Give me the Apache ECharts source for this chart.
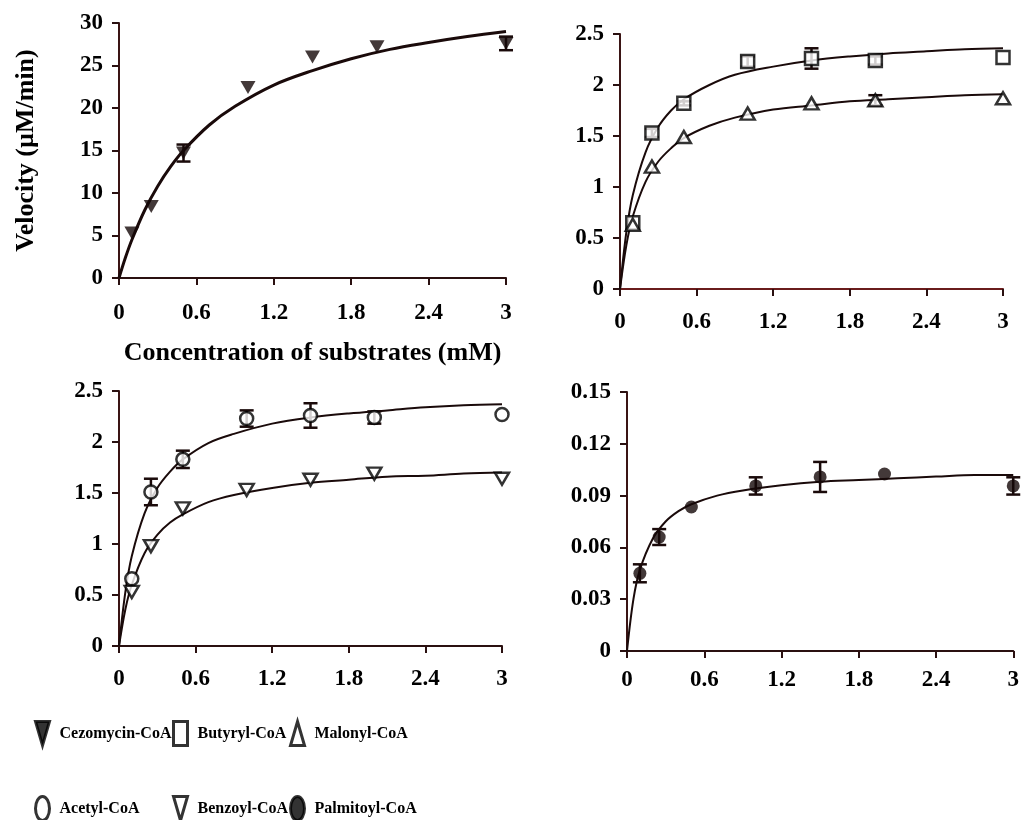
<!DOCTYPE html>
<html>
<head>
<meta charset="utf-8">
<script src="https://cdn.jsdelivr.net/npm/echarts@6/dist/echarts.min.js"></script>
<style>html,body{margin:0;background:#fff}#chart{width:1022px;height:820px}</style>
</head>
<body>
<div id="chart"></div>
<script>
// substrate concentrations (mM) of the measured points
var conc = [0.1, 0.25, 0.5, 1, 1.5, 2, 3];
var fitConc = [0, 0.05, 0.1, 0.2, 0.3, 0.4, 0.5, 0.7, 0.9, 1.2, 1.5, 1.8, 2.1, 2.4, 2.7, 3];

var cezomycin = [5.3, 8.4, 14.7, 22.4, 26.0, 27.2, 27.6];
var cezomycinErr = [0, 0, 1.0, 0, 0, 0, 0.8];
var cezomycinFit = [0, 2.4, 4.5, 8.0, 10.8, 13.1, 15.0, 18.0, 20.2, 22.7, 24.4, 25.8, 26.9, 27.7, 28.4, 29.0];

var butyryl = [0.65, 1.53, 1.82, 2.23, 2.26, 2.24, 2.27];
var butyrylErr = [0, 0.04, 0.02, 0.05, 0.1, 0.04, 0];
var butyrylFit = [0, 0.56, 0.92, 1.34, 1.59, 1.75, 1.86, 2.00, 2.10, 2.18, 2.24, 2.28, 2.31, 2.33, 2.35, 2.36];

var malonyl = [0.63, 1.2, 1.49, 1.72, 1.82, 1.85, 1.87];
var malonylErr = [0, 0, 0, 0, 0, 0.05, 0];
var malonylFit = [0, 0.43, 0.71, 1.05, 1.25, 1.38, 1.48, 1.60, 1.68, 1.76, 1.80, 1.84, 1.86, 1.88, 1.90, 1.91];

var acetyl = [0.66, 1.51, 1.83, 2.23, 2.26, 2.24, 2.27];
var acetylErr = [0, 0.13, 0.085, 0.08, 0.12, 0.06, 0];
var acetylFit = [0, 0.53, 0.88, 1.30, 1.55, 1.71, 1.83, 1.99, 2.08, 2.18, 2.24, 2.28, 2.31, 2.34, 2.36, 2.37];

var benzoyl = [0.53, 0.98, 1.35, 1.53, 1.63, 1.69, 1.64];
var benzoylFit = [0, 0.36, 0.60, 0.91, 1.09, 1.21, 1.29, 1.41, 1.48, 1.55, 1.60, 1.63, 1.66, 1.67, 1.69, 1.70];

var palmitoyl = [0.045, 0.066, 0.0834, 0.0956, 0.1008, 0.1025, 0.0956];
var palmitoylErr = [0.0052, 0.0046, 0, 0.005, 0.0087, 0, 0.005];
var palmitoylFit = [0, 0.030, 0.047, 0.065, 0.075, 0.081, 0.085, 0.090, 0.093, 0.096, 0.098, 0.099, 0.100, 0.101, 0.102, 0.102];

var yMax = [30, 2.5, 2.5, 0.15];
var yStep = [5, 0.5, 0.5, 0.03];

var FONT = '"Liberation Serif", "Times New Roman", serif';
var DOWN = 'path://M0,0L10,0L5,9Z';
var UP = 'path://M5,0L10,9L0,9Z';
var OVAL = 'path://M5,0A5,9 0 1,1 5,18A5,9 0 1,1 5,0Z';
var filled = {color: '#140808'};
var hollow = {color: '#fff', borderColor: '#000', borderWidth: 2.5};

var myChart = echarts.init(document.getElementById('chart'));

var grids = [
  {left: 119, top: 23, width: 387, height: 255},
  {left: 620, top: 34, width: 383, height: 255},
  {left: 119, top: 391, width: 383, height: 255},
  {left: 627, top: 392, width: 390, height: 259}
];
var labelGap = [24, 22, 22, 18];

function xAxisFor(i) {
  var ax = {
    type: 'value', gridIndex: i, min: 0, max: 3, interval: 0.6,
    axisLine: {lineStyle: {color: i == 1 ? '#6a1c1c' : '#2a1010', width: 2}},
    axisTick: {length: 7, lineStyle: {color: '#2a1010', width: 2}},
    axisLabel: {margin: labelGap[i], color: '#000', fontSize: 23, fontWeight: 'bold', fontFamily: FONT},
    splitLine: {show: false}
  };
  if (i == 0) {
    ax.name = 'Concentration of substrates (mM)';
    ax.nameLocation = 'middle';
    ax.nameGap = 62;
    ax.nameTextStyle = {color: '#000', fontSize: 26, fontWeight: 'bold', fontFamily: FONT};
  }
  return ax;
}

function yAxisFor(i) {
  var ax = {
    type: 'value', gridIndex: i, min: 0, max: yMax[i], interval: yStep[i],
    axisLine: {show: true, lineStyle: {color: '#3a1414', width: 2}},
    axisTick: {show: true, length: 7, lineStyle: {color: '#2a1010', width: 2}},
    axisLabel: {margin: 16, color: '#000', fontSize: 23, fontWeight: 'bold', fontFamily: FONT},
    splitLine: {show: false}
  };
  if (i == 0) {
    ax.name = 'Velocity (\u00b5M/min)';
    ax.nameLocation = 'middle';
    ax.nameGap = 80;
    ax.nameTextStyle = {color: '#000', fontSize: 26, fontWeight: 'bold', fontFamily: FONT};
  }
  return ax;
}

function points(name, i, vals, symbol, style, size) {
  return {
    name: name, type: 'scatter', xAxisIndex: i, yAxisIndex: i,
    data: conc.map(function (c, k) { return [c, vals[k]]; }),
    symbol: symbol, symbolSize: size, symbolKeepAspect: false,
    itemStyle: style, z: 5
  };
}

function errBars(name, i, vals, err) {
  var d = [];
  conc.forEach(function (c, k) { if (err[k]) d.push([c, vals[k], err[k]]); });
  return {
    name: name + ' SD', type: 'custom', xAxisIndex: i, yAxisIndex: i,
    data: d, encode: {x: 0, y: 1}, z: 4,
    renderItem: function (params, api) {
      var x = api.value(0), y = api.value(1), e = api.value(2);
      var hi = api.coord([x, y + e]);
      var lo = api.coord([x, y - e]);
      var w = 7;
      var st = {stroke: '#1a0a0a', lineWidth: 2.5};
      return {type: 'group', children: [
        {type: 'line', shape: {x1: hi[0], y1: hi[1], x2: lo[0], y2: lo[1]}, style: st},
        {type: 'line', shape: {x1: hi[0] - w, y1: hi[1], x2: hi[0] + w, y2: hi[1]}, style: st},
        {type: 'line', shape: {x1: lo[0] - w, y1: lo[1], x2: lo[0] + w, y2: lo[1]}, style: st}
      ]};
    }
  };
}

function fit(name, i, vals, width) {
  return {
    name: name + ' fit', type: 'line', xAxisIndex: i, yAxisIndex: i,
    data: fitConc.map(function (c, k) { return [c, vals[k]]; }),
    smooth: 0.35, showSymbol: false, silent: true,
    lineStyle: {color: '#1a0a0a', width: width}, z: 3
  };
}

// one legend per entry so the two rows line up in columns
function legendItem(left, top, name, icon, style) {
  return {
    left: left, top: top, padding: 0,
    itemWidth: 14, itemHeight: 24,
    symbolKeepAspect: false, selectedMode: false,
    textStyle: {color: '#000', fontSize: 16, fontWeight: 'bold', fontFamily: FONT, padding: [0, 0, 0, 5]},
    data: [{name: name, icon: icon, itemStyle: style}]
  };
}

var hollowLegend = {color: '#fff', borderColor: '#000', borderWidth: 3};
var solidLegend = {color: '#000', borderColor: '#000', borderWidth: 3};

var option = {
  backgroundColor: '#fff',
  animation: false,
  grid: grids,
  xAxis: [0, 1, 2, 3].map(xAxisFor),
  yAxis: [0, 1, 2, 3].map(yAxisFor),
  legend: [
    legendItem(34, 720, 'Cezomycin-CoA', DOWN, solidLegend),
    legendItem(172, 720, 'Butyryl-CoA', 'rect', hollowLegend),
    legendItem(289, 720, 'Malonyl-CoA', UP, hollowLegend),
    legendItem(34, 795, 'Acetyl-CoA', OVAL, hollowLegend),
    legendItem(172, 795, 'Benzoyl-CoA', DOWN, hollowLegend),
    legendItem(289, 795, 'Palmitoyl-CoA', OVAL, solidLegend)
  ],
  series: [
    points('Cezomycin-CoA', 0, cezomycin, DOWN, filled, [15, 13]),
    errBars('Cezomycin-CoA', 0, cezomycin, cezomycinErr),
    fit('Cezomycin-CoA', 0, cezomycinFit, 3),

    points('Butyryl-CoA', 1, butyryl, 'rect', hollow, 13),
    errBars('Butyryl-CoA', 1, butyryl, butyrylErr),
    fit('Butyryl-CoA', 1, butyrylFit, 2),
    points('Malonyl-CoA', 1, malonyl, UP, hollow, [14, 12]),
    errBars('Malonyl-CoA', 1, malonyl, malonylErr),
    fit('Malonyl-CoA', 1, malonylFit, 2),

    points('Acetyl-CoA', 2, acetyl, 'circle', hollow, 13),
    errBars('Acetyl-CoA', 2, acetyl, acetylErr),
    fit('Acetyl-CoA', 2, acetylFit, 2),
    points('Benzoyl-CoA', 2, benzoyl, DOWN, hollow, [14, 12]),
    fit('Benzoyl-CoA', 2, benzoylFit, 2),

    points('Palmitoyl-CoA', 3, palmitoyl, 'circle', filled, 13),
    errBars('Palmitoyl-CoA', 3, palmitoyl, palmitoylErr),
    fit('Palmitoyl-CoA', 3, palmitoylFit, 2)
  ]
};

myChart.setOption(option);
</script>
</body>
</html>
